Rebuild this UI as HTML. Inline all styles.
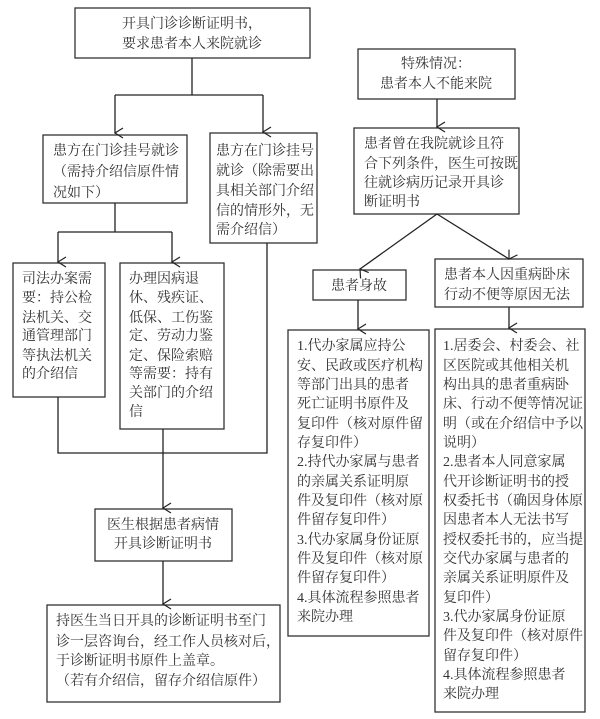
<!DOCTYPE html>
<html><head><meta charset="utf-8"><style>
html,body{margin:0;padding:0;background:#fff;}
svg{display:block;}
text{font-family:"Liberation Serif","Noto Serif CJK SC",serif;font-size:14px;fill:#333;}
</style></head><body>
<svg width="600" height="719" viewBox="0 0 600 719" xmlns="http://www.w3.org/2000/svg">
<defs><marker id="a" markerWidth="12" markerHeight="12" refX="6" refY="10" orient="auto" markerUnits="userSpaceOnUse"><path d="M1,2 L6,10 L11,2" fill="none" stroke="#222" stroke-width="1.2"/></marker></defs>
<g fill="none" stroke="#333" stroke-width="1.3">
<rect x="75" y="8" width="235" height="50"/>
<rect x="43" y="135" width="144" height="68"/>
<rect x="210" y="133" width="107" height="110"/>
<rect x="13" y="263" width="92" height="134"/>
<rect x="120" y="263" width="104" height="166"/>
<rect x="95" y="509" width="137" height="52"/>
<rect x="47" y="605" width="233" height="97"/>
<rect x="358" y="49" width="157" height="50"/>
<rect x="354" y="128" width="165" height="86"/>
<rect x="313" y="270" width="93" height="30"/>
<rect x="435" y="259" width="148" height="48"/>
<rect x="288" y="330" width="141" height="306"/>
<rect x="435" y="329" width="150" height="383"/>
</g>
<g fill="none" stroke="#222" stroke-width="1.3">
<path d="M192,58 V95 M115,95 H263"/>
<path d="M115,95 V133" marker-end="url(#a)"/>
<path d="M263,95 V132" marker-end="url(#a)"/>
<path d="M115,203 V232 M58,232 H172"/>
<path d="M58,232 V262" marker-end="url(#a)"/>
<path d="M172,232 V262" marker-end="url(#a)"/>
<path d="M58,397 V453 H267 V243"/>
<path d="M163,429 V508" marker-end="url(#a)"/>
<path d="M163,561 V604" marker-end="url(#a)"/>
<path d="M437,99 V127" marker-end="url(#a)"/>
<path d="M437,214 L360,269" marker-end="url(#a)"/>
<path d="M437,214 L509,259" marker-end="url(#a)"/>
<path d="M358,300 V329" marker-end="url(#a)"/>
<path d="M509,307 V328" marker-end="url(#a)"/>
</g>
<g text-anchor="middle">
<text x="192" y="28">开具门诊诊断证明书，</text>
<text x="192" y="48">要求患者本人来院就诊</text>
<text x="436" y="68">特殊情况：</text>
<text x="436" y="88">患者本人不能来院</text>
<text x="359" y="290">患者身故</text>
<text x="163" y="529">医生根据患者病情</text>
<text x="163" y="548">开具诊断证明书</text>
</g>
<text x="53" y="155">患方在门诊挂号就诊</text>
<text x="53" y="176">（需持介绍信原件情</text>
<text x="53" y="197">况如下）</text>
<g>
<text x="216" y="155">患方在门诊挂号</text>
<text x="216" y="175">就诊（除需要出</text>
<text x="216" y="195">具相关部门介绍</text>
<text x="216" y="215">信的情形外，无</text>
<text x="216" y="234">需介绍信）</text>
</g>
<g>
<text x="22" y="283">司法办案需</text>
<text x="22" y="302">要：持公检</text>
<text x="22" y="322">法机关、交</text>
<text x="22" y="340">通管理部门</text>
<text x="22" y="360">等执法机关</text>
<text x="22" y="378">的介绍信</text>
</g>
<g>
<text x="129" y="283">办理因病退</text>
<text x="129" y="302">休、残疾证、</text>
<text x="129" y="322">低保、工伤鉴</text>
<text x="129" y="340">定、劳动力鉴</text>
<text x="129" y="360">定、保险索赔</text>
<text x="129" y="378">等需要：持有</text>
<text x="129" y="397">关部门的介绍</text>
<text x="129" y="416">信</text>
</g>
<g>
<text x="56" y="625">持医生当日开具的诊断证明书至门</text>
<text x="56" y="646">诊一层咨询台，经工作人员核对后，</text>
<text x="56" y="665">于诊断证明书原件上盖章。</text>
<text x="56" y="685">（若有介绍信，留存介绍信原件）</text>
</g>
<g>
<text x="364" y="148">患者曾在我院就诊且符</text>
<text x="364" y="168">合下列条件，医生可按既</text>
<text x="364" y="187">往就诊病历记录开具诊</text>
<text x="364" y="206">断证明书</text>
</g>
<g>
<text x="444" y="279">患者本人因重病卧床</text>
<text x="444" y="299">行动不便等原因无法</text>
</g>
<g>
<text x="297" y="350">1.代办家属应持公</text>
<text x="297" y="370">安、民政或医疗机构</text>
<text x="297" y="389">等部门出具的患者</text>
<text x="297" y="408">死亡证明书原件及</text>
<text x="297" y="428">复印件（核对原件留</text>
<text x="297" y="447">存复印件）</text>
<text x="297" y="466">2.持代办家属与患者</text>
<text x="297" y="486">的亲属关系证明原</text>
<text x="297" y="505">件及复印件（核对原</text>
<text x="297" y="524">件留存复印件）</text>
<text x="297" y="544">3.代办家属身份证原</text>
<text x="297" y="563">件及复印件（核对原</text>
<text x="297" y="582">件留存复印件）</text>
<text x="297" y="602">4.具体流程参照患者</text>
<text x="297" y="621">来院办理</text>
</g>
<g>
<text x="443" y="350">1.居委会、村委会、社</text>
<text x="443" y="370">区医院或其他相关机</text>
<text x="443" y="389">构出具的患者重病卧</text>
<text x="443" y="408">床、行动不便等情况证</text>
<text x="443" y="428">明（或在介绍信中予以</text>
<text x="443" y="447">说明）</text>
<text x="443" y="466">2.患者本人同意家属</text>
<text x="443" y="486">代开诊断证明书的授</text>
<text x="443" y="505">权委托书（确因身体原</text>
<text x="443" y="524">因患者本人无法书写</text>
<text x="443" y="544">授权委托书的，应当提</text>
<text x="443" y="563">交代办家属与患者的</text>
<text x="443" y="582">亲属关系证明原件及</text>
<text x="443" y="602">复印件）</text>
<text x="443" y="621">3.代办家属身份证原</text>
<text x="443" y="640">件及复印件（核对原件</text>
<text x="443" y="660">留存复印件）</text>
<text x="443" y="679">4.具体流程参照患者</text>
<text x="443" y="698">来院办理</text>
</g>
</svg>
</body></html>
